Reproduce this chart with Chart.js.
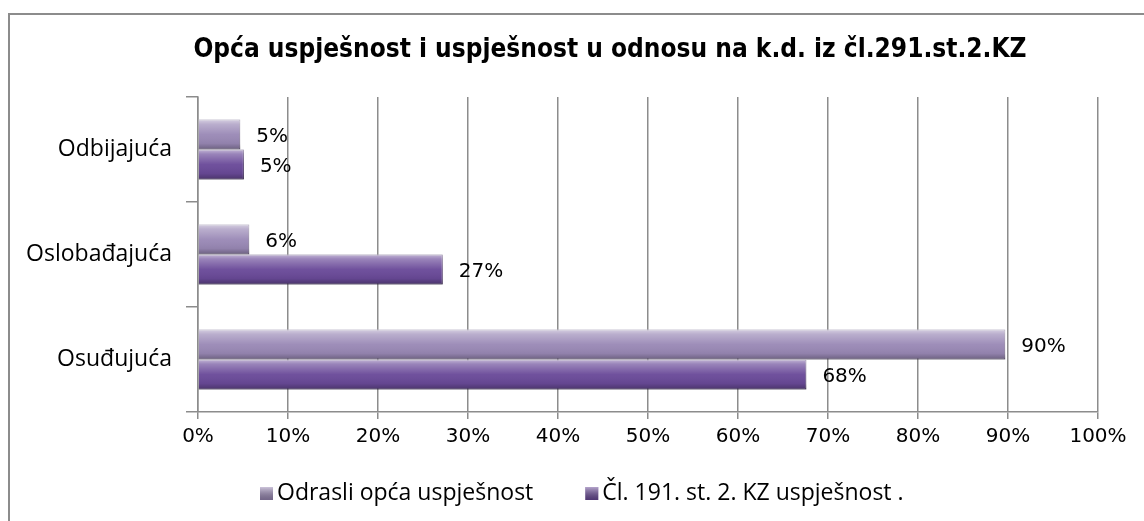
<!DOCTYPE html>
<html>
<head>
<meta charset="utf-8">
<title>Opća uspješnost</title>
<script src="https://cdn.jsdelivr.net/npm/chart.js@4.4.1/dist/chart.umd.min.js"></script>
<style>
    html, body { margin: 0; padding: 0; background: #fff; overflow: hidden; }
    #frame {
        position: absolute; left: 8px; top: 13px; width: 1200px; height: 600px;
        border: 2px solid #8c8c8c; box-sizing: border-box;
    }
    #wrap { position: absolute; left: 0; top: 0; width: 1144px; height: 521px; }
</style>
</head>
<body>
<div id="frame"></div>
<div id="wrap"><canvas id="chart"></canvas></div>
<script>
var chartTitle = 'Opća uspješnost i uspješnost u odnosu na k.d. iz čl.291.st.2.KZ';
var categories = ['Odbijajuća', 'Oslobađajuća', 'Osuđujuća'];
var seriesNames = ['Odrasli opća uspješnost', 'Čl. 191. st. 2. KZ uspješnost .'];
var adultValues = [4.7, 5.7, 89.7];
var articleValues = [5.1, 27.2, 67.6];
var xTicks = [0, 10, 20, 30, 40, 50, 60, 70, 80, 90, 100];

var tickFont = { family: "'DejaVu Sans', sans-serif", size: 20 };
var labelFont = "'Open Sans', sans-serif";

// title is centred on the outer frame, not on the canvas, so draw it here
var titlePlugin = {
    id: 'frameTitle',
    afterDraw: function (chart) {
        var ctx = chart.ctx;
        ctx.save();
        ctx.font = "bold 26px 'DejaVu Sans Condensed', 'DejaVu Sans', sans-serif";
        ctx.fillStyle = '#000';
        ctx.textAlign = 'center';
        ctx.textBaseline = 'middle';
        ctx.fillText(chartTitle, 610, 50);
        ctx.restore();
    }
};

// glossy overlay on each bar, roughly like the office 3d bevel
var bevelPlugin = {
    id: 'bevel',
    afterDatasetsDraw: function (chart) {
        var ctx = chart.ctx;
        chart.data.datasets.forEach(function (ds, di) {
            var meta = chart.getDatasetMeta(di);
            meta.data.forEach(function (bar) {
                var p = bar.getProps(['x', 'y', 'base', 'height'], true);
                var top = p.y - p.height / 2;
                var g = ctx.createLinearGradient(0, top, 0, top + p.height);
                g.addColorStop(0, 'rgba(255,255,255,0.6)');
                g.addColorStop(0.15, 'rgba(255,255,255,0.32)');
                g.addColorStop(0.5, 'rgba(255,255,255,0.04)');
                g.addColorStop(0.8, 'rgba(0,0,0,0.06)');
                g.addColorStop(1, 'rgba(0,0,0,0.3)');
                ctx.save();
                ctx.fillStyle = g;
                ctx.fillRect(p.base, top, p.x - p.base, p.height);
                ctx.restore();
            });
        });
    }
};

var valueLabelPlugin = {
    id: 'valueLabels',
    afterDatasetsDraw: function (chart) {
        var ctx = chart.ctx;
        ctx.save();
        ctx.font = tickFont.size + 'px ' + tickFont.family;
        ctx.fillStyle = '#000';
        ctx.textAlign = 'left';
        ctx.textBaseline = 'middle';
        chart.data.datasets.forEach(function (ds, di) {
            var meta = chart.getDatasetMeta(di);
            meta.data.forEach(function (bar, i) {
                ctx.fillText(Math.round(ds.data[i]) + '%', bar.x + 16, bar.y + 2);
            });
        });
        ctx.restore();
    }
};

var legendPlugin = {
    id: 'legendRow',
    afterDraw: function (chart) {
        var ctx = chart.ctx;
        var x = 260;
        var y = 493;
        ctx.save();
        ctx.font = '23px ' + labelFont;
        ctx.textBaseline = 'middle';
        chart.data.datasets.forEach(function (ds) {
            ctx.fillStyle = ds.backgroundColor;
            ctx.fillRect(x, y - 6, 13, 13);
            var g = ctx.createLinearGradient(0, y - 6, 0, y + 7);
            g.addColorStop(0, 'rgba(255,255,255,0.5)');
            g.addColorStop(1, 'rgba(0,0,0,0.25)');
            ctx.fillStyle = g;
            ctx.fillRect(x, y - 6, 13, 13);
            ctx.fillStyle = '#000';
            ctx.fillText(ds.label, x + 17, y);
            x += 17 + ctx.measureText(ds.label).width + 52;
        });
        ctx.restore();
    }
};

new Chart(document.getElementById('chart').getContext('2d'), {
    type: 'bar',
    data: {
        labels: categories,
        datasets: [
            {
                label: seriesNames[0],
                data: adultValues,
                backgroundColor: '#9a89b6',
                borderColor: '#6d5d84',
                borderWidth: 1,
                categoryPercentage: 0.571,
                barPercentage: 1
            },
            {
                label: seriesNames[1],
                data: articleValues,
                backgroundColor: '#6a4a99',
                borderColor: '#3f2a5e',
                borderWidth: 1,
                categoryPercentage: 0.571,
                barPercentage: 1
            }
        ]
    },
    options: {
        indexAxis: 'y',
        responsive: true,
        maintainAspectRatio: false,
        animation: false,
        devicePixelRatio: 1,
        layout: { padding: { left: 0, right: 46, top: 97, bottom: 51 } },
        plugins: {
            legend: { display: false },
            tooltip: { enabled: false },
            title: { display: false }
        },
        scales: {
            x: {
                min: 0,
                max: 100,
                afterBuildTicks: function (scale) {
                    scale.ticks = xTicks.map(function (v) { return { value: v }; });
                },
                afterFit: function (scale) { scale.height = 58; },
                ticks: {
                    color: '#000',
                    font: tickFont,
                    padding: 6,
                    callback: function (v) { return v + '%'; }
                },
                grid: { color: '#8c8c8c', lineWidth: 1.5, tickLength: 7 },
                border: { color: '#8c8c8c', width: 1.5 }
            },
            y: {
                afterFit: function (scale) { scale.width = 198; },
                ticks: {
                    color: '#000',
                    font: { family: labelFont, size: 23 },
                    padding: 14
                },
                grid: { drawOnChartArea: false, offset: true, color: '#8c8c8c', lineWidth: 1.5, tickLength: 12 },
                border: { color: '#8c8c8c', width: 1.5 }
            }
        }
    },
    plugins: [bevelPlugin, valueLabelPlugin, legendPlugin, titlePlugin]
});
</script>
</body>
</html>
